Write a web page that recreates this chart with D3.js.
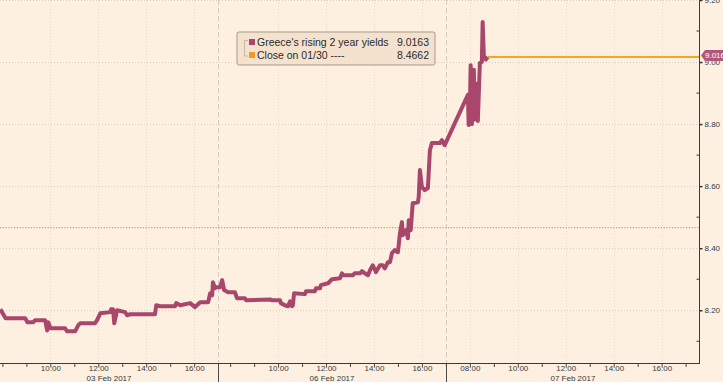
<!DOCTYPE html>
<html>
<head>
<meta charset="utf-8">
<script src="https://cdn.jsdelivr.net/npm/d3@7"></script>
<style>
  html, body { margin: 0; padding: 0; background: #fdf0e1; }
  svg { display: block; font-family: "Liberation Sans", Arial, sans-serif; }
  .tick text { fill: #3a3a3a; }
</style>
</head>
<body>
<svg id="chart" width="723" height="382"></svg>
<script>
// Greece 2y yields, intraday over three sessions

const days = ['03 Feb 2017', '06 Feb 2017', '07 Feb 2017'];
const sessionOpen = ['07:54', '07:30', '07:00'];
const sessionClose = ['17:00', '17:00', '17:36'];
const labelHours = [[10, 12, 14, 16], [10, 12, 14, 16], [8, 10, 12, 14, 16]];

const day1Yields = [
  ['07:55', 8.203], ['08:08', 8.174], ['08:57', 8.174], ['09:03', 8.161], ['09:17', 8.161],
  ['09:22', 8.168], ['09:47', 8.168], ['09:52', 8.135], ['09:55', 8.161], ['10:00', 8.142],
  ['10:37', 8.142], ['10:42', 8.132], ['11:02', 8.132], ['11:10', 8.152], ['11:15', 8.158],
  ['11:52', 8.158], ['11:57', 8.168], ['12:05', 8.190], ['12:30', 8.194], ['12:32', 8.203],
  ['12:37', 8.203], ['12:40', 8.158], ['12:47', 8.200], ['13:07', 8.194], ['13:12', 8.184],
  ['13:20', 8.187], ['14:22', 8.187], ['14:25', 8.216], ['14:35', 8.213], ['15:12', 8.213],
  ['15:15', 8.223], ['15:25', 8.216], ['15:50', 8.223], ['16:02', 8.210], ['16:15', 8.226],
  ['16:35', 8.226], ['16:40', 8.255], ['16:45', 8.248], ['16:47', 8.290], ['16:52', 8.271],
  ['16:55', 8.274]
];

const day2Yields = [
  ['07:35', 8.274], ['07:40', 8.297], ['07:45', 8.265], ['07:55', 8.258], ['08:12', 8.258],
  ['08:17', 8.239], ['08:37', 8.239], ['08:40', 8.232], ['09:40', 8.235], ['09:45', 8.232],
  ['10:05', 8.232], ['10:07', 8.223], ['10:17', 8.216], ['10:25', 8.213], ['10:30', 8.229],
  ['10:35', 8.213], ['10:37', 8.216], ['10:40', 8.255], ['11:07', 8.252], ['11:10', 8.261],
  ['11:32', 8.261], ['11:35', 8.271], ['11:45', 8.271], ['11:47', 8.281], ['12:05', 8.287],
  ['12:15', 8.300], ['12:35', 8.303], ['12:40', 8.319], ['12:42', 8.313], ['13:07', 8.313],
  ['13:12', 8.319], ['13:25', 8.319], ['13:30', 8.326], ['13:37', 8.319], ['13:45', 8.313],
  ['13:50', 8.329], ['13:57', 8.345], ['14:05', 8.323], ['14:15', 8.345], ['14:22', 8.345],
  ['14:27', 8.335], ['14:35', 8.355], ['14:40', 8.355], ['14:45', 8.384], ['14:52', 8.394],
  ['15:00', 8.387], ['15:05', 8.448], ['15:10', 8.484], ['15:12', 8.442], ['15:20', 8.458],
  ['15:25', 8.432], ['15:27', 8.490], ['15:32', 8.458], ['15:37', 8.545], ['15:50', 8.548],
  ['15:52', 8.565], ['15:55', 8.652], ['16:00', 8.597], ['16:07', 8.587], ['16:15', 8.594],
  ['16:20', 8.716], ['16:25', 8.739], ['16:45', 8.739], ['16:50', 8.748], ['16:57', 8.732]
];

const day3Yields = [
  ['07:55', 8.894], ['07:57', 8.797], ['08:00', 8.845], ['08:02', 8.990], ['08:05', 8.800],
  ['08:10', 8.975], ['08:12', 8.815], ['08:17', 8.930], ['08:20', 8.810], ['08:25', 8.997],
  ['08:30', 9.000], ['08:32', 9.129], ['08:35', 9.020], ['08:40', 9.008], ['08:45', 9.016]
];

const lastYield = 9.0163;
const closeYield = 8.4662;
const closeLabel = 'Close on 01/30 ----';
const seriesLabel = "Greece's rising 2 year yields";
const yMajor = [8.2, 8.4, 8.6, 8.8, 9.0, 9.2];
const yMinor = [8.1, 8.3, 8.5, 8.7, 8.9, 9.1];

const colors = { line: '#a8466b', close: '#f29a1f', last: '#f5a623', tag: '#b4567b' };

const W = 723, H = 382;
const margin = { top: 0, right: 23, bottom: 19, left: 0 };
const plotW = W - margin.left - margin.right;
const plotH = H - margin.top - margin.bottom;

const hrs = s => { const [h, m] = s.split(':').map(Number); return h + m / 60; };

// compressed trading-time axis: each session laid end to end
const dayStart = [];
let acc = 0;
days.forEach((d, i) => { dayStart.push(acc); acc += hrs(sessionClose[i]) - hrs(sessionOpen[i]); });
const total = acc;

const x = d3.scaleLinear().domain([0, total]).range([0, plotW]);
const pos = (day, hour) => dayStart[day] + hour - hrs(sessionOpen[day]);

const y = d3.scaleLinear().domain([8.03, 9.2]).range([plotH, 0]);

const series = [day1Yields, day2Yields, day3Yields]
  .flatMap((arr, i) => arr.map(([t, v]) => ({ t: pos(i, hrs(t)), v })));

const svg = d3.select('#chart');
svg.append('rect').attr('width', W).attr('height', H).attr('fill', '#fdf0e1');

const g = svg.append('g').attr('transform', `translate(${margin.left},${margin.top})`);

// hourly ticks per session
const ticks = [];
days.forEach((d, i) => {
  const o = hrs(sessionOpen[i]), c = hrs(sessionClose[i]);
  for (let h = Math.ceil(o); h < c; h++) {
    if (i < 2 && h === 17) continue;
    ticks.push({ t: pos(i, h), label: labelHours[i].includes(h) ? d3.format('02')(h) + ':00' : '' });
  }
});

// grid
g.append('g').selectAll('line.hgrid')
  .data(yMajor)
  .join('line')
  .attr('x1', 0).attr('x2', plotW)
  .attr('y1', d => y(d) + 0.5).attr('y2', d => y(d) + 0.5)
  .attr('stroke', '#d8cdbf').attr('stroke-dasharray', '1,2');

g.append('g').selectAll('line.vgrid')
  .data(ticks.filter(d => d.label))
  .join('line')
  .attr('x1', d => Math.round(x(d.t)) + 0.5).attr('x2', d => Math.round(x(d.t)) + 0.5)
  .attr('y1', 0).attr('y2', plotH)
  .attr('stroke', '#e6dacb').attr('stroke-dasharray', '1,2');

// session separators
const seps = dayStart.slice(1);
g.append('g').selectAll('line')
  .data(seps)
  .join('line')
  .attr('x1', d => Math.round(x(d)) + 0.5).attr('x2', d => Math.round(x(d)) + 0.5)
  .attr('y1', 0).attr('y2', plotH)
  .attr('stroke', '#d6cbbd').attr('stroke-dasharray', '5,3');
g.append('g').selectAll('line')
  .data(seps)
  .join('line')
  .attr('x1', d => Math.round(x(d)) + 0.5).attr('x2', d => Math.round(x(d)) + 0.5)
  .attr('y1', plotH).attr('y2', H)
  .attr('stroke', '#4a4a4a');

// close on 01/30
g.append('line')
  .attr('x1', 0).attr('x2', plotW)
  .attr('y1', y(closeYield)).attr('y2', y(closeYield))
  .attr('stroke', colors.close).attr('stroke-width', 1.2).attr('stroke-dasharray', '1.2,1.6');

// series
const line = d3.line().x(d => x(d.t)).y(d => y(d.v));
g.append('path')
  .datum(series)
  .attr('d', line)
  .attr('fill', 'none')
  .attr('stroke', colors.line)
  .attr('stroke-width', 4)
  .attr('stroke-linejoin', 'round');

// last value line
const last = series[series.length - 1];
g.append('line')
  .attr('x1', x(last.t)).attr('x2', plotW)
  .attr('y1', y(lastYield)).attr('y2', y(lastYield))
  .attr('stroke', colors.last).attr('stroke-width', 2);

// x axis
const xAxis = d3.axisBottom(x)
  .tickValues(ticks.map(d => d.t))
  .tickFormat((d, i) => ticks[i].label)
  .tickSize(4)
  .tickPadding(-1.5);
const gx = g.append('g').attr('transform', `translate(0,${plotH})`).call(xAxis);
gx.select('.domain').remove();
gx.selectAll('.tick line').attr('stroke', '#4a4a4a');
gx.selectAll('.tick text').attr('font-size', 8).attr('font-family', null);
gx.append('line').attr('x1', 0).attr('x2', plotW).attr('y1', 0.5).attr('y2', 0.5).attr('stroke', '#3a3a3a');

// day labels, centred on each session
g.append('g').selectAll('text')
  .data(days)
  .join('text')
  .attr('x', (d, i) => (Math.max(0, x(dayStart[i])) + x(i < 2 ? dayStart[i + 1] : total)) / 2)
  .attr('y', H - 1)
  .attr('text-anchor', 'middle')
  .attr('font-size', 8)
  .attr('fill', '#3a3a3a')
  .text(d => d);

// y axis on the right
const yAxis = d3.axisRight(y).tickValues(yMajor).tickFormat(d3.format('.2f')).tickSize(3).tickPadding(2);
const gy = g.append('g').attr('transform', `translate(${plotW - 0.5},0)`).call(yAxis);
gy.select('.domain').remove();
gy.selectAll('.tick line').attr('stroke', '#333').attr('stroke-width', 1.5);
gy.selectAll('.tick text').attr('font-size', 8).attr('font-family', null);
gy.append('line').attr('x1', 0).attr('x2', 0).attr('y1', 0).attr('y2', plotH + 0.5).attr('stroke', '#3a3a3a');
gy.selectAll('line.minor')
  .data(yMinor)
  .join('line')
  .attr('class', 'minor')
  .attr('x1', -3).attr('x2', 0)
  .attr('y1', d => y(d)).attr('y2', d => y(d))
  .attr('stroke', '#3a3a3a');

// last value tag
const ty = y(lastYield) - 1.5;
const tx = plotW + 1;
svg.append('path')
  .attr('d', `M${tx},${ty} L${tx + 4},${ty - 5.5} L${W},${ty - 5.5} L${W},${ty + 5.5} L${tx + 4},${ty + 5.5} Z`)
  .attr('fill', colors.tag);
svg.append('text')
  .attr('x', tx + 4).attr('y', ty + 3)
  .attr('font-size', 8).attr('fill', '#fff')
  .text(d3.format('.3f')(lastYield));

// legend
const lg = svg.append('g').attr('transform', 'translate(237,32)');
lg.append('rect')
  .attr('width', 198).attr('height', 33).attr('rx', 2)
  .attr('fill', '#f4e2cf').attr('stroke', '#a8998a');
lg.append('path')
  .attr('d', 'M11,8.5 H7.5 V24 H11')
  .attr('fill', 'none').attr('stroke', '#c4b8ab');
const rows = [
  { label: seriesLabel, value: d3.format('.4f')(lastYield), color: colors.line },
  { label: closeLabel, value: d3.format('.4f')(closeYield), color: colors.close }
];
const row = lg.selectAll('g.row')
  .data(rows)
  .join('g')
  .attr('transform', (d, i) => `translate(0,${7 + i * 13})`);
row.append('rect').attr('x', 12).attr('y', 0).attr('width', 6).attr('height', 6).attr('fill', d => d.color);
row.append('text').attr('x', 20).attr('y', 7).attr('font-size', 10.5).attr('fill', '#2a2a2a').text(d => d.label);
row.append('text').attr('x', 192).attr('y', 7).attr('text-anchor', 'end').attr('font-size', 10.5).attr('fill', '#2a2a2a').text(d => d.value);
</script>
</body>
</html>
